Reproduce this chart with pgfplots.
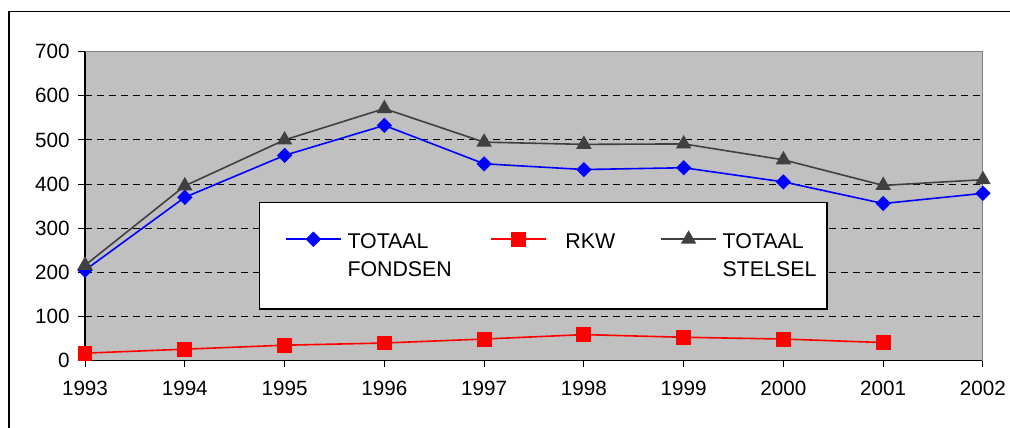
\documentclass[border=0pt]{standalone}
\usepackage{pgfplots}
\pgfplotsset{compat=1.18}
\usepackage{fontspec}
\setmainfont{Liberation Sans}
\definecolor{plotgray}{HTML}{C0C0C0}
\definecolor{bordergray}{HTML}{808080}
\definecolor{stelsel}{HTML}{404040}

\begin{document}
\begin{tikzpicture}
\useasboundingbox[fill=white] (-63.75pt,-50.5pt) rectangle (693.75pt,270.5pt);
% outer chart frame (only left and top visible)
\draw[line width=0.9pt] (-57pt,-60pt) -- (-57pt,261.75pt) -- (700pt,261.75pt);
\begin{axis}[
    width=673.5pt, height=231.75pt, scale only axis,
    xmin=1993, xmax=2002, ymin=0, ymax=700,
    xtick={1993,...,2002}, ytick={0,100,...,700},
    axis x line*=bottom, axis y line*=left,
    axis line style={black, line width=0.9pt},
    axis background/.style={fill=plotgray},
    ymajorgrids,
    major grid style={black, line width=0.75pt, dash pattern=on 5.5pt off 3.5pt},
    tick align=outside, major tick length=5pt,
    tick style={black, line width=0.75pt},
    ticklabel style={font=\fontsize{15.5}{18}\selectfont},
    xticklabel style={yshift=-7pt},
    yticklabel style={xshift=-3pt},
    /pgf/number format/1000 sep={},
    /pgf/number format/assume math mode=true,
    legend columns=3,
    legend style={draw=none, fill=none, at={(0.2227,0.4295)}, anchor=north west,
        inner sep=0pt, font=\fontsize{16}{21.5}\selectfont, nodes={inner sep=0pt},
        /tikz/every odd column/.append style={column sep=4.5pt}},
    legend image code/.code={\draw[mark repeat=2,mark phase=2,#1] plot coordinates {(0pt,0pt) (20.5pt,0pt) (41pt,0pt)};},
]
% TOTAAL FONDSEN
\addplot[blue, line width=1.2pt, mark=square*, mark size=3.45pt,
    mark options={rotate=45, solid, fill=blue}]
    coordinates {(1993,205) (1994,370) (1995,465) (1996,533) (1997,446)
                 (1998,433) (1999,437) (2000,405) (2001,356) (2002,379)};
\addlegendentry{\makebox[107pt][l]{\smash{\begin{tabular}[t]{@{}l@{}}TOTAAL\\FONDSEN\end{tabular}}\strut}}
% RKW
\addplot[red, line width=1.2pt, mark=square*, mark size=5pt,
    mark options={solid, fill=red}]
    coordinates {(1993,17) (1994,26) (1995,35) (1996,40) (1997,49)
                 (1998,59) (1999,53) (2000,49) (2001,41)};
\addlegendentry{\makebox[81pt][l]{\hspace{9.75pt}RKW\strut}}
% TOTAAL STELSEL
\addplot[stelsel, line width=1.2pt, mark=triangle*, mark size=5.5pt,
    mark options={solid, fill=stelsel}]
    coordinates {(1993,216) (1994,396) (1995,500) (1996,571) (1997,495)
                 (1998,490) (1999,491) (2000,455) (2001,397) (2002,410)};
\addlegendentry{\makebox[70pt][l]{\smash{\begin{tabular}[t]{@{}l@{}}TOTAAL\\STELSEL\end{tabular}}\strut}}
% top and right border of the plot area
\draw[bordergray, line width=1pt] (rel axis cs:0,1) -- (rel axis cs:1,1) -- (rel axis cs:1,0);
% legend box
\draw[black, line width=0.8pt, fill=white] (rel axis cs:0.1938,0.1673) rectangle (rel axis cs:0.8263,0.5104);
\end{axis}
\end{tikzpicture}
\end{document}
